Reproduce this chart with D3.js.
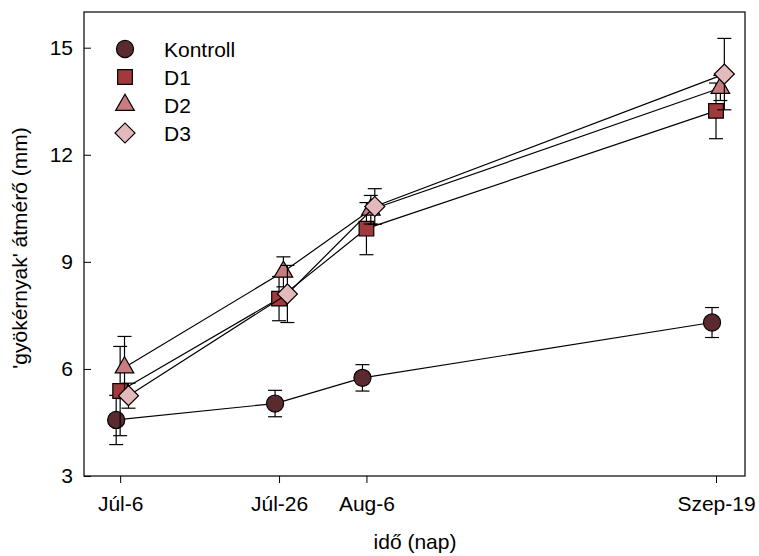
<!DOCTYPE html>
<html>
<head>
<meta charset="utf-8">
<script src="https://cdn.jsdelivr.net/npm/d3@7"></script>
<style>
  body { margin: 0; background: #fff; }
  text { font-family: Arial, "Liberation Sans", sans-serif; fill: #000; }
</style>
</head>
<body>
<div id="main"></div>
<script>
// days since Júl-6 and their tick labels
const days = [0, 20, 31, 75];
const dayLabels = ['Júl-6', 'Júl-26', 'Aug-6', 'Szep-19'];
const yTicks = [3, 6, 9, 12, 15];

// series means and error values (mm)
const kontroll = [4.57, 5.03, 5.75, 7.3];
const kontrollErr = [0.69, 0.37, 0.37, 0.42];
const d1 = [5.38, 7.97, 9.93, 13.23];
const d1Err = [1.25, 0.62, 0.73, 0.78];
const d2 = [6.04, 8.72, 10.46, 13.87];
const d2Err = [0.87, 0.42, 0.4, 0.35];
const d3v = [5.25, 8.1, 10.55, 14.26];
const d3Err = [0.35, 0.8, 0.5, 1.0];

const seriesNames = ['Kontroll', 'D1', 'D2', 'D3'];

function main() {
  const width = 759;
  const height = 556;
  const margin = { top: 12, right: 14, bottom: 80, left: 84 };
  const fontSize = 21;

  // series styling (shape, colour, small horizontal offset in days)
  const series = [
    { name: seriesNames[0], vals: kontroll, err: kontrollErr, type: d3.symbolCircle, size: 230, rot: 0, color: '#5b2a2e', off: -0.5 },
    { name: seriesNames[1], vals: d1, err: d1Err, type: d3.symbolSquare, size: 215, rot: 0, color: '#a23a3d', off: 0 },
    { name: seriesNames[2], vals: d2, err: d2Err, type: d3.symbolTriangle, size: 150, rot: 0, color: '#c97c7f', off: 0.55 },
    { name: seriesNames[3], vals: d3v, err: d3Err, type: d3.symbolSquare, size: 200, rot: 45, color: '#e3b9bb', off: 1.05 }
  ];

  const svg = d3.select('#main')
    .append('svg')
    .attr('width', width)
    .attr('height', height);

  const x = d3.scaleLinear()
    .domain([-4.55, 78.65])
    .range([margin.left, width - margin.right]);
  const y = d3.scaleLinear()
    .domain([3, 16])
    .range([height - margin.bottom, margin.top]);

  // frame
  svg.append('rect')
    .attr('x', margin.left)
    .attr('y', margin.top)
    .attr('width', width - margin.left - margin.right)
    .attr('height', height - margin.top - margin.bottom)
    .attr('fill', 'none')
    .attr('stroke', '#000')
    .attr('stroke-width', 1.2);

  // x axis, ticks outward
  const xAxis = svg.append('g')
    .attr('transform', `translate(0,${height - margin.bottom})`)
    .call(d3.axisBottom(x)
      .tickValues(days)
      .tickFormat((d, i) => dayLabels[i])
      .tickSize(7)
      .tickPadding(13));
  xAxis.select('.domain').remove();
  xAxis.selectAll('text').attr('font-size', fontSize).attr('font-family', 'Arial, "Liberation Sans", sans-serif');

  // y axis, ticks inward
  const yAxis = svg.append('g')
    .attr('transform', `translate(${margin.left},0)`)
    .call(d3.axisLeft(y)
      .tickValues(yTicks)
      .tickSize(-7)
      .tickPadding(11));
  yAxis.select('.domain').remove();
  yAxis.selectAll('text').attr('font-size', fontSize).attr('font-family', 'Arial, "Liberation Sans", sans-serif');

  // axis titles
  svg.append('text')
    .attr('x', 415)
    .attr('y', 549)
    .attr('text-anchor', 'middle')
    .attr('font-size', fontSize)
    .text('idő (nap)');
  svg.append('text')
    .attr('transform', `translate(27,${(margin.top + height - margin.bottom) / 2 + 4}) rotate(-90)`)
    .attr('text-anchor', 'middle')
    .attr('font-size', fontSize)
    .text("'gyökérnyak' átmérő (mm)");

  const line = d3.line()
    .x(d => x(d.day))
    .y(d => y(d.v));

  // each series: line, error bars, symbols
  series.forEach(s => {
    const pts = days.map((day, i) => ({ day: day + s.off, v: s.vals[i], e: s.err[i] }));
    const g = svg.append('g');
    g.append('path')
      .datum(pts)
      .attr('d', line)
      .attr('fill', 'none')
      .attr('stroke', '#000')
      .attr('stroke-width', 1.2);
    const eb = g.selectAll('.eb')
      .data(pts)
      .enter()
      .append('g')
      .attr('stroke', '#000')
      .attr('stroke-width', 1.2);
    eb.append('line')
      .attr('x1', d => x(d.day)).attr('x2', d => x(d.day))
      .attr('y1', d => y(d.v - d.e)).attr('y2', d => y(d.v + d.e));
    [-1, 1].forEach(sign => {
      eb.append('line')
        .attr('x1', d => x(d.day) - 7).attr('x2', d => x(d.day) + 7)
        .attr('y1', d => y(d.v + sign * d.e)).attr('y2', d => y(d.v + sign * d.e));
    });
    g.selectAll('.sym')
      .data(pts)
      .enter()
      .append('path')
      .attr('d', d3.symbol().type(s.type).size(s.size))
      .attr('transform', d => `translate(${x(d.day)},${y(d.v)}) rotate(${s.rot})`)
      .attr('fill', s.color)
      .attr('stroke', '#000')
      .attr('stroke-width', 1.2);
  });

  // legend
  const legend = svg.append('g')
    .selectAll('g')
    .data(series)
    .enter()
    .append('g')
    .attr('transform', (d, i) => `translate(125,${49 + i * 28})`);
  legend.append('path')
    .attr('d', d => d3.symbol().type(d.type).size(d.size)())
    .attr('transform', d => `rotate(${d.rot})`)
    .attr('fill', d => d.color)
    .attr('stroke', '#000')
    .attr('stroke-width', 1.2);
  legend.append('text')
    .attr('x', 39)
    .attr('dy', '0.36em')
    .attr('font-size', fontSize)
    .text(d => d.name);
}

main();
</script>
</body>
</html>
